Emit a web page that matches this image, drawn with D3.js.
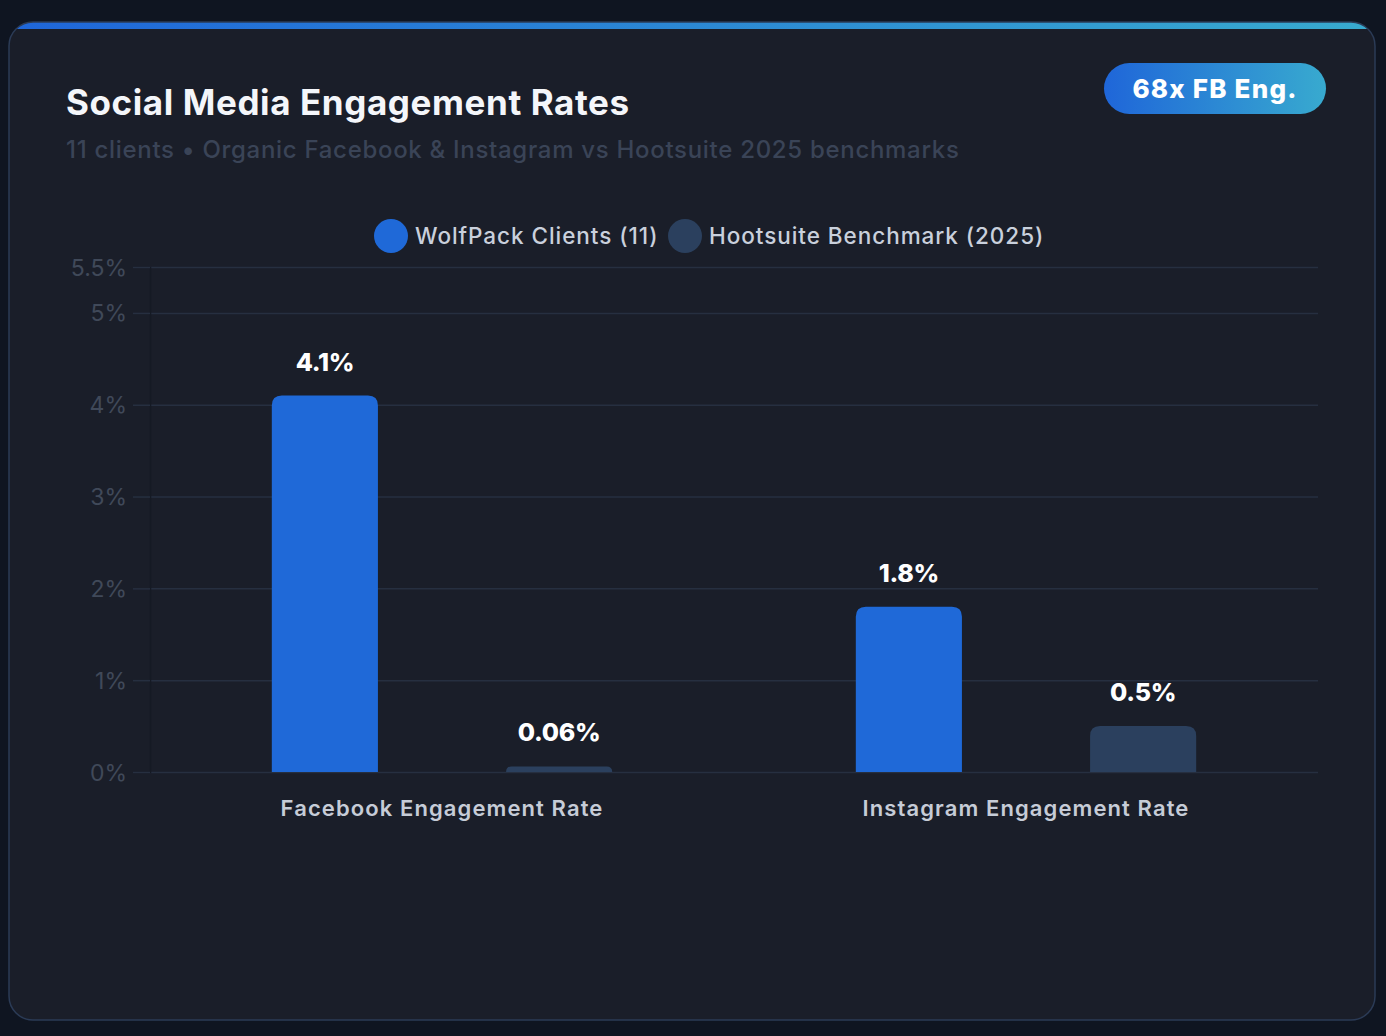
<!DOCTYPE html>
<html>
<head>
<meta charset="utf-8">
<script src="https://cdn.jsdelivr.net/npm/d3@7"></script>
<style>
  html, body { margin: 0; padding: 0; background: #0f1521; }
  svg { display: block; }
</style>
</head>
<body>
<svg width="1386" height="1036"></svg>
<script>
// chart data
var categories = ["Facebook Engagement Rate", "Instagram Engagement Rate"];
var seriesNames = ["WolfPack Clients (11)", "Hootsuite Benchmark (2025)"];
var wolfpackValues = [4.1, 1.8];
var benchmarkValues = [0.06, 0.5];
var valueLabels = [["4.1%", "0.06%"], ["1.8%", "0.5%"]];
var yTicks = [0, 1, 2, 3, 4, 5, 5.5];
var badgeText = "68x FB Eng.";

window.onload = function() {
    var svg = d3.select("svg"),
        W = 1386, H = 1036,
        font = "Inter, 'Noto Sans', sans-serif",
        colors = ["#1f69d8", "#2b405e"];

    var defs = svg.append("defs");
    var grad = defs.append("linearGradient").attr("id", "accent");
    grad.append("stop").attr("offset", "0%").attr("stop-color", "#1f66d9");
    grad.append("stop").attr("offset", "100%").attr("stop-color", "#38aacf");

    // card
    defs.append("clipPath").attr("id", "cardClip")
        .append("rect").attr("x", 9).attr("y", 22).attr("width", 1366).attr("height", 998).attr("rx", 24);
    svg.append("rect")
        .attr("x", 9).attr("y", 22).attr("width", 1366).attr("height", 998).attr("rx", 24)
        .attr("fill", "#1a1e29");
    svg.append("rect")
        .attr("clip-path", "url(#cardClip)")
        .attr("x", 9).attr("y", 22).attr("width", 1366).attr("height", 7)
        .attr("fill", "url(#accent)");
    svg.append("rect")
        .attr("x", 9).attr("y", 22).attr("width", 1366).attr("height", 998).attr("rx", 24)
        .attr("fill", "none").attr("stroke", "#2b3b56").attr("stroke-width", 1.5);

    // title
    svg.append("text")
        .attr("x", 66).attr("y", 115)
        .attr("fill", "#f4f6fa").attr("font-family", font)
        .attr("font-size", 35).attr("font-weight", 700).attr("letter-spacing", 0.6)
        .text("Social Media Engagement Rates");
    svg.append("text")
        .attr("x", 66).attr("y", 158)
        .attr("fill", "#3a4457").attr("font-family", font)
        .attr("font-size", 24).attr("font-weight", 500).attr("letter-spacing", 0.7)
        .text("11 clients \u2022 Organic Facebook & Instagram vs Hootsuite 2025 benchmarks");

    // badge
    svg.append("rect")
        .attr("x", 1104).attr("y", 63).attr("width", 222).attr("height", 51).attr("rx", 25.5)
        .attr("fill", "url(#accent)");
    svg.append("text")
        .attr("x", 1215).attr("y", 98)
        .attr("text-anchor", "middle")
        .attr("fill", "#ffffff").attr("font-family", font)
        .attr("font-size", 26).attr("font-weight", 800).attr("letter-spacing", 1.2)
        .text(badgeText);

    // legend
    var legendX = [391, 685];
    var legend = svg.append("g").selectAll("g").data(seriesNames).enter().append("g")
        .attr("transform", function(d, i) { return "translate(" + legendX[i] + ",236)"; });
    legend.append("circle").attr("r", 17).attr("fill", function(d, i) { return colors[i]; });
    legend.append("text")
        .attr("x", 24).attr("y", 8)
        .attr("fill", "#c9d0dc").attr("font-family", font)
        .attr("font-size", 22.5).attr("font-weight", 500).attr("letter-spacing", 0.95)
        .text(function(d) { return d; });

    // plot
    var margin = {left: 150, right: 68, top: 267},
        plotW = W - margin.left - margin.right,
        plotH = 772 - margin.top,
        g = svg.append("g").attr("transform", "translate(" + margin.left + "," + margin.top + ")");

    var x0 = d3.scaleBand().domain(categories).range([0, plotW]).padding(0),
        x1 = d3.scaleBand().domain([0, 1]).range([0, x0.bandwidth()]).paddingInner(0.547).paddingOuter(0.52),
        y = d3.scaleLinear().domain([0, 5.5]).range([plotH, 0]);

    // grid
    g.append("g")
        .call(d3.axisLeft(y).tickValues(yTicks).tickSize(-plotW).tickFormat(""))
        .call(function(s) {
            s.select(".domain").remove();
            s.selectAll("line").attr("stroke", "#262f40").attr("stroke-width", 1.5);
        });

    // y axis
    g.append("g")
        .call(d3.axisLeft(y).tickValues(yTicks).tickSize(17).tickPadding(6)
            .tickFormat(function(d) { return d + "%"; }))
        .call(function(s) {
            s.select(".domain").attr("stroke", "#151a24").attr("stroke-width", 1.5);
            s.selectAll("line").attr("stroke", "#262f40").attr("stroke-width", 1.5);
            s.selectAll("text").attr("fill", "#404959").attr("font-family", font)
                .attr("font-size", 23).attr("dy", "0.35em");
        });

    // bars
    var rows = categories.map(function(c, i) {
        return {cat: c, vals: [wolfpackValues[i], benchmarkValues[i]], labels: valueLabels[i]};
    });

    function barPath(x, w, v) {
        var top = y(v), bottom = y(0), h = bottom - top,
            r = Math.min(10, h, w / 2);
        return "M" + x + "," + bottom +
            "V" + (top + r) +
            "Q" + x + "," + top + " " + (x + r) + "," + top +
            "H" + (x + w - r) +
            "Q" + (x + w) + "," + top + " " + (x + w) + "," + (top + r) +
            "V" + bottom + "Z";
    }

    var groups = g.selectAll(".grp").data(rows).enter().append("g")
        .attr("transform", function(d) { return "translate(" + x0(d.cat) + ",0)"; });

    groups.selectAll("path").data(function(d) {
        return d.vals.map(function(v, i) { return {v: v, i: i, label: d.labels[i]}; });
    }).enter().append("path")
        .attr("fill", function(d) { return colors[d.i]; })
        .attr("d", function(d) { return barPath(x1(d.i), x1.bandwidth(), d.v); });

    groups.selectAll("text").data(function(d) {
        return d.vals.map(function(v, i) { return {v: v, i: i, label: d.labels[i]}; });
    }).enter().append("text")
        .attr("x", function(d) { return x1(d.i) + x1.bandwidth() / 2; })
        .attr("y", function(d) { return y(d.v) - 25; })
        .attr("text-anchor", "middle")
        .attr("fill", "#ffffff").attr("font-family", font)
        .attr("font-size", 25).attr("font-weight", 800).attr("letter-spacing", -0.3)
        .text(function(d) { return d.label; });

    // x axis labels
    g.append("g")
        .attr("transform", "translate(0," + plotH + ")")
        .call(d3.axisBottom(x0).tickSize(0).tickPadding(28))
        .call(function(s) {
            s.select(".domain").remove();
            s.selectAll("text").attr("fill", "#c6ccd7").attr("font-family", font)
                .attr("font-size", 22).attr("font-weight", 600).attr("letter-spacing", 1.1);
        });
};
</script>
</body>
</html>
